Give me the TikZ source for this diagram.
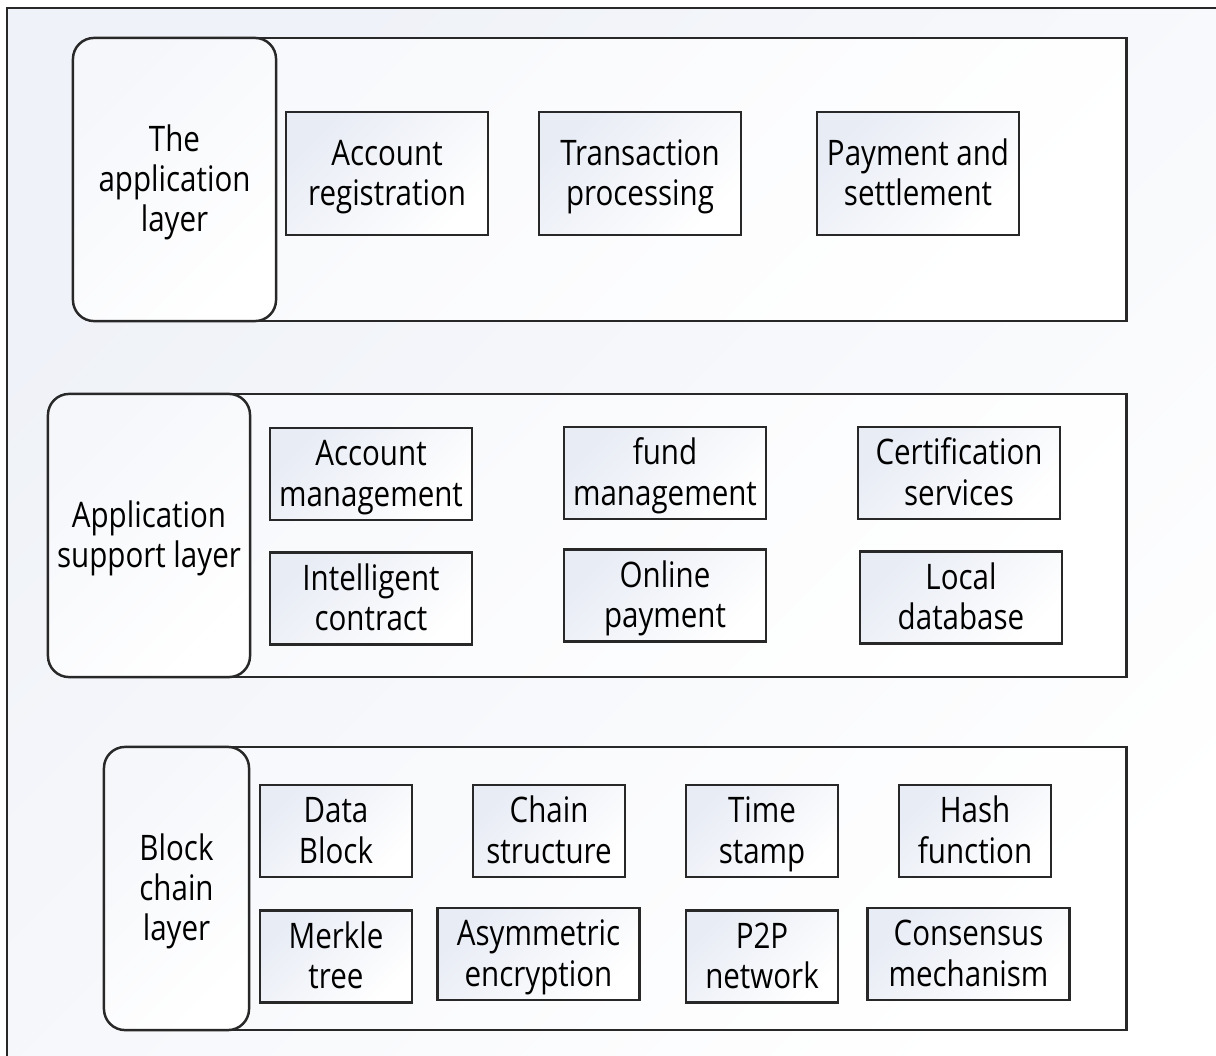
\documentclass[tikz,border=0pt]{standalone}
\usepackage{fontspec}
\setmainfont{Open Sans}[FakeStretch=0.84]
\usepackage{tikz}
\usetikzlibrary{positioning}
\definecolor{shadeblue}{RGB}{226,231,242}
\definecolor{edgegray}{RGB}{40,40,40}

\begin{document}
\begin{tikzpicture}[x=0.01cm, y=-0.01cm,
  layerbox/.style={rectangle, draw=edgegray, line width=0.7pt, rounded corners=6pt, top color=shadeblue!35, bottom color=white, shading angle=45, align=center, inner sep=0pt, font=\fontsize{10}{11.4}\selectfont, text height=20.5pt, text depth=2.3pt},
  panel/.style={rectangle, draw=edgegray, line width=0.7pt, top color=shadeblue!25, bottom color=white, shading angle=45, inner sep=0pt},
  item/.style={rectangle, draw=edgegray, line width=0.7pt, top color=shadeblue!80, bottom color=white, shading angle=45, align=center, inner sep=0pt, minimum width=2.02cm, minimum height=0.92cm, font=\fontsize{10}{11.4}\selectfont, text height=20.5pt, text depth=2.3pt},
  smallitem/.style={item, minimum width=1.52cm}
]
  \clip (0,0) rectangle (1216,1055);
  \path[draw=edgegray, line width=0.7pt, top color=shadeblue!55, bottom color=white, shading angle=45] (7,8) rectangle (1260,1100);

  \node[panel, minimum width=9.63cm, minimum height=2.83cm] (apppanel) at (644.5,179.5) {};
  \node[layerbox, text height=31.9pt, minimum width=2.03cm, minimum height=2.83cm] (app) at (174.5,179.5) {The\\application\\layer};
  \node[item, minimum height=1.23cm] (reg) at (387,173.5) {Account\\registration};
  \node[item, minimum height=1.23cm] (trans) at (640,173.5) {Transaction\\processing};
  \node[item, minimum height=1.23cm] (pay) at (918,173.5) {Payment and\\settlement};

  \node[panel, minimum width=9.63cm, minimum height=2.83cm] (suppanel) at (644.5,535.5) {};
  \node[layerbox, minimum width=2.02cm, minimum height=2.83cm] (support) at (149,535.5) {Application\\support layer};
  \node[item] (acct) at (371,474) {Account\\management};
  \node[item] (fund) at (665,473) {fund\\management};
  \node[item] (cert) at (959,473) {Certification\\services};
  \node[item, below=0.3cm of acct] (contract) {Intelligent\\contract};
  \node[item, below=0.28cm of fund] (online) {Online\\payment};
  \node[item, below=0.3cm of cert, xshift=0.02cm] (localdb) {Local\\database};

  \node[panel, minimum width=9.63cm, minimum height=2.83cm] (chainpanel) at (644.5,888.5) {};
  \node[layerbox, text height=31.9pt, minimum width=1.45cm, minimum height=2.83cm] (chain) at (176.5,888.5) {Block\\chain\\layer};
  \node[smallitem] (data) at (336,831) {Data\\Block};
  \node[smallitem] (struct) at (549,831) {Chain\\structure};
  \node[smallitem] (time) at (762,831) {Time\\stamp};
  \node[smallitem] (hash) at (975,831) {Hash\\function};
  \node[smallitem, below=0.31cm of data] (merkle) {Merkle\\tree};
  \node[item] (asym) at (538.5,954) {Asymmetric\\encryption};
  \node[smallitem, below=0.31cm of time] (p2p) {P2P\\network};
  \node[item] (consensus) at (968.5,954) {Consensus\\mechanism};
\end{tikzpicture}
\end{document}
